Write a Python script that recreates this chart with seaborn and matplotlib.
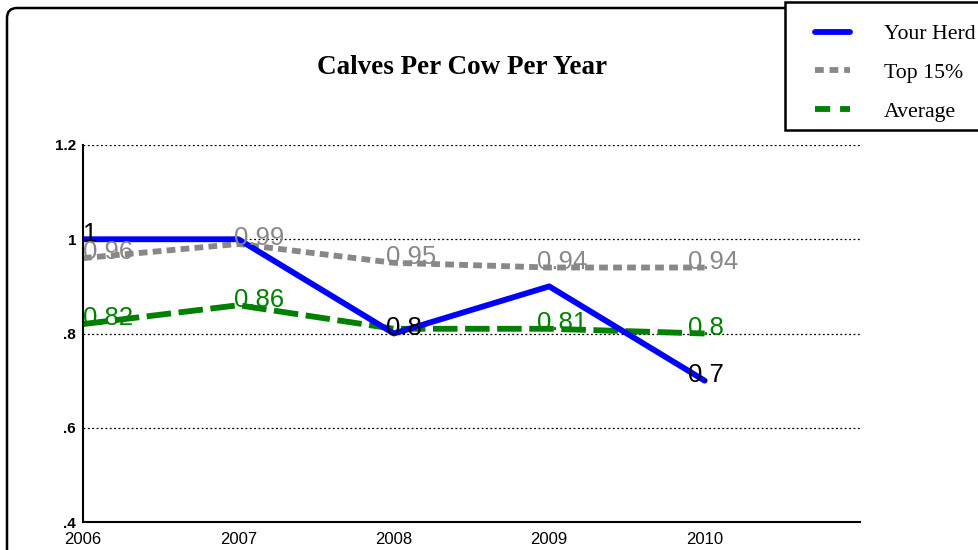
import pandas as pd
import matplotlib.pyplot as plt
import seaborn as sb
from matplotlib.patches import FancyBboxPatch, Rectangle
from matplotlib.lines import Line2D
from matplotlib.transforms import IdentityTransform

# chart values
years = [2006, 2007, 2008, 2009, 2010]
your_herd = [1.0, 1.0, 0.8, 0.9, 0.7]
top_15 = [0.96, 0.99, 0.95, 0.94, 0.94]
average = [0.82, 0.86, 0.81, 0.81, 0.80]
# which point labels are shown (None = hidden)
your_herd_labels = ['1', None, '0.8', None, '0.7']
top_15_labels = ['0.96', '0.99', '0.95', '0.94', '0.94']
average_labels = ['0.82', '0.86', None, '0.81', '0.8']
y_ticks = [0.4, 0.6, 0.8, 1.0, 1.2]
y_tick_labels = ['.4', '.6', '.8', '1', '1.2']

df = pd.DataFrame({'year': years, 'Your Herd': your_herd,
                   'Top 15%': top_15, 'Average': average})

sb.set_style('white')
plt.rcParams['font.family'] = ['Liberation Sans', 'DejaVu Sans']
plt.rcParams['text.color'] = 'black'

fig = plt.figure(figsize=(9.79, 5.5), dpi=100)
ax = fig.add_axes([83/979, 1-522/550, (860-83)/979, (522-145)/550])

LW = 4.2
grey_ls = (0, (1.5, 0.9))
green_ls = (0, (4.2, 1.3))
# series: (column, colour, linestyle, labels, label colour)
series = [
    ('Average', '#008000', green_ls, average_labels, '#008000'),
    ('Top 15%', '#888888', grey_ls, top_15_labels, '#888888'),
    ('Your Herd', '#0000ff', '-', your_herd_labels, 'black'),
]
for col, colour, ls, labels, tcol in series:
    sb.lineplot(data=df, x='year', y=col, ax=ax, color=colour, linewidth=LW,
                linestyle=ls, legend=False)
    ax.lines[-1].set_dash_capstyle('butt')
# point labels drift a little to the left as in the original chart
for col, colour, ls, labels, tcol in series:
    for i, (x, y, lab) in enumerate(zip(years, df[col], labels)):
        if lab is not None:
            ax.annotate(lab, (x, y), xytext=(-2.9*i, -1), textcoords='offset points',
                        color=tcol, fontsize=18.5, ha='left', va='baseline')

ax.set_xlim(2006, 2011)
ax.set_ylim(0.4, 1.2)
ax.set_xticks(years)
ax.set_xticklabels([str(y) for y in years], fontsize=12, color='black')
ax.set_yticks(y_ticks)
ax.set_yticklabels(y_tick_labels, fontsize=11, fontweight='bold', color='black')
ax.tick_params(axis='x', direction='out', length=6, width=0.8, pad=1, color='black')
ax.tick_params(axis='y', length=0, pad=5)
ax.set_xlabel('')
ax.set_ylabel('')
ax.grid(axis='y', linestyle=(0, (1.5, 2)), color='black', linewidth=0.9)
ax.grid(axis='x', visible=False)
for s in ['top', 'right']:
    ax.spines[s].set_visible(False)
for s in ['left', 'bottom']:
    ax.spines[s].set_color('black')
    ax.spines[s].set_linewidth(1.5)

# title
fig.text(462/979, 1-68/550, 'Calves Per Cow Per Year', ha='center', va='center',
         fontsize=19.5, fontweight='bold', color='black',
         family=['Liberation Serif', 'DejaVu Serif'])

# rounded outer frame
frame = FancyBboxPatch((7, -30), 1020, 550-8+30, boxstyle='round,pad=0,rounding_size=10',
                       transform=IdentityTransform(), facecolor='none',
                       edgecolor='black', linewidth=1.8)
fig.patches.append(frame)

# legend box
fig.patches.append(Rectangle((785, 550-130), 220, 128, transform=IdentityTransform(),
                             facecolor='white', edgecolor='black', linewidth=1.8))
handles = [Line2D([], [], color='#0000ff', linewidth=LW, linestyle='-'),
           Line2D([], [], color='#888888', linewidth=LW, linestyle=(0, (1.5, 1.0)),
                  dash_capstyle='butt'),
           Line2D([], [], color='#008000', linewidth=LW, linestyle=(0, (2.6, 1.7)),
                  dash_capstyle='butt')]
leg = fig.legend(handles, ['Your Herd', 'Top 15%', 'Average'], loc='upper left',
                 bbox_to_anchor=(815/979, 1-24/550), frameon=False,
                 prop={'family': ['Liberation Serif', 'DejaVu Serif'], 'size': 15.7},
                 handlelength=1.6, handletextpad=1.55, labelspacing=0.85,
                 borderpad=0, borderaxespad=0)
for t in leg.get_texts():
    t.set_color('black')

plt.savefig('out.png', dpi=100)
